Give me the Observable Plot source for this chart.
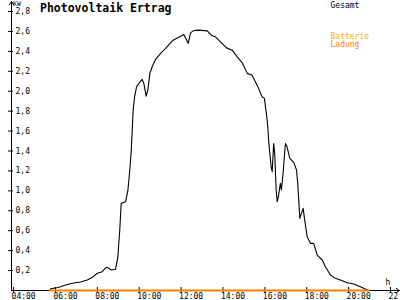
<!DOCTYPE html>
<html>
<head>
<meta charset="utf-8">
<script src="https://cdn.jsdelivr.net/npm/d3@7"></script>
<script src="https://cdn.jsdelivr.net/npm/@observablehq/plot@0.6"></script>
<style>
  html, body { margin: 0; padding: 0; background: #fff; }
  svg { display: block; }
</style>
</head>
<body>
<div id="chart"></div>
<script>
// ---- data (hours of day, kW) ----
const titleText = "Photovoltaik Ertrag";
const unitY = "KW";
const unitX = "h";
const seriesNames = ["Gesamt", "Batterie", "Ladung"];

const gesamtHour = [5.73, 5.77, 6.05, 6.24, 6.48, 6.80, 7.20, 7.52, 7.76, 8.00, 8.23, 8.42, 8.55, 8.66, 8.87, 8.98, 9.07, 9.14, 9.35, 9.46, 9.55, 9.62, 9.71, 9.78, 9.87, 9.98, 10.14, 10.22, 10.33, 10.41, 10.51, 10.62, 10.78, 11.02, 11.26, 11.58, 11.73, 12.13, 12.34, 12.45, 12.58, 12.80, 13.25, 13.48, 13.64, 13.88, 14.17, 14.44, 14.68, 14.92, 15.16, 15.39, 15.63, 15.87, 15.98, 16.11, 16.15, 16.19, 16.30, 16.35, 16.42, 16.47, 16.54, 16.59, 16.66, 16.74, 16.79, 16.87, 16.98, 17.06, 17.19, 17.38, 17.51, 17.57, 17.67, 17.75, 17.83, 17.89, 18.02, 18.18, 18.33, 18.50, 18.74, 18.89, 19.13, 19.37, 19.61, 19.93, 20.24, 20.56, 20.96];
const gesamtKW = [0.00, 0.018, 0.028, 0.038, 0.055, 0.072, 0.085, 0.105, 0.132, 0.173, 0.189, 0.233, 0.223, 0.206, 0.213, 0.339, 0.607, 0.875, 0.891, 1.008, 1.209, 1.409, 1.81, 1.944, 2.044, 2.078, 2.118, 2.078, 1.951, 2.011, 2.179, 2.245, 2.319, 2.379, 2.429, 2.506, 2.523, 2.57, 2.479, 2.586, 2.606, 2.613, 2.606, 2.556, 2.546, 2.495, 2.435, 2.412, 2.345, 2.285, 2.179, 2.161, 2.061, 1.944, 1.928, 1.71, 1.61, 1.476, 1.242, 1.192, 1.476, 1.376, 1.008, 0.891, 0.958, 1.075, 1.008, 1.176, 1.476, 1.442, 1.326, 1.286, 1.209, 1.075, 0.724, 0.774, 0.824, 0.724, 0.54, 0.473, 0.473, 0.356, 0.306, 0.239, 0.155, 0.122, 0.105, 0.078, 0.065, 0.038, 0.00];

const ladungHour = [5.73, 20.96];
const ladungKW = [0, 0];

const xTicks = [4, 6, 8, 10, 12, 14, 16, 18, 20, 22];
const xTickLabels = ["04:00", "06:00", "08:00", "10:00", "12:00", "14:00", "16:00", "18:00", "20:00", "22:00"];
const yTicks = [0.2, 0.4, 0.6, 0.8, 1.0, 1.2, 1.4, 1.6, 1.8, 2.0, 2.2, 2.4, 2.6, 2.8];
const yTickLabels = ["0,2", "0,4", "0,6", "0,8", "1,0", "1,2", "1,4", "1,6", "1,8", "2,0", "2,2", "2,4", "2,6", "2,8"];

const xStart = 3.9, xEnd = 22, xArrow = 22.43;
const yMax = 2.8, yArrow = 2.9;

// ---- tables ----
const gesamt = gesamtHour.map((h, i) => ({h, kw: gesamtKW[i]}));
const ladung = ladungHour.map((h, i) => ({h, kw: ladungKW[i]}));
const xT = xTicks.map((v, i) => ({v, label: xTickLabels[i]}));
const yT = yTicks.map((v, i) => ({v, label: yTickLabels[i]}));

const colGesamt = "#000000";
const colBatterie = "#ffaa00";
const colLadung = "#ff8000";
const mono = "DejaVu Sans Mono";

const chart = Plot.plot({
  width: 400,
  height: 300,
  marginLeft: 11,
  marginRight: 10,
  marginTop: 11,
  marginBottom: 10,
  style: {fontFamily: mono, fontSize: "8px", background: "#fff", color: "#000"},
  x: {domain: [xStart, xEnd], axis: null},
  y: {domain: [0, yMax], axis: null},
  marks: [
    // axes with arrows
    Plot.arrow([{x1: xStart, y1: 0, x2: xArrow, y2: 0}], {x1: "x1", y1: "y1", x2: "x2", y2: "y2", stroke: "#000", strokeWidth: 1, headLength: 6, headAngle: 66}),
    Plot.arrow([{x1: xStart, y1: 0, x2: xStart, y2: yArrow}], {x1: "x1", y1: "y1", x2: "x2", y2: "y2", stroke: "#000", strokeWidth: 1, headLength: 6, headAngle: 66}),
    // ticks
    Plot.ruleX(xT, {x: "v", y1: 0, y2: 0, insetTop: -3, insetBottom: -3, stroke: "#000"}),
    Plot.ruleY(yT, {y: "v", x1: xStart, x2: xStart, insetLeft: -3, insetRight: -2, stroke: "#000"}),
    // tick labels
    Plot.text(xT, {x: "v", y: 0, text: "label", textAnchor: "start", lineAnchor: "top", dx: -2, dy: 3, fontSize: 8, fill: "#000"}),
    Plot.text(yT, {y: "v", frameAnchor: "left", text: "label", textAnchor: "start", lineAnchor: "middle", dx: 4, fontSize: 8, fill: "#000"}),
    // data
    Plot.line(gesamt, {x: "h", y: "kw", stroke: colGesamt, strokeWidth: 1.1, curve: "linear"}),
    Plot.line(ladung, {x: "h", y: "kw", stroke: colLadung, strokeWidth: 2}),
    // title, units, legend
    Plot.text([titleText], {frameAnchor: "top-left", text: d => d, textAnchor: "start", lineAnchor: "bottom", dx: 28.5, dy: 0.5, fontSize: 11.5, fontWeight: "bold", fill: "#000"}),
    Plot.text([unitY], {frameAnchor: "top-left", text: d => d, textAnchor: "start", lineAnchor: "bottom", dx: 1.5, dy: -5.5, fontSize: 6.5, fill: "#000"}),
    Plot.text([unitX], {frameAnchor: "bottom-right", text: d => d, textAnchor: "start", lineAnchor: "bottom", dx: -5, dy: -5.5, fontSize: 8, fill: "#000"}),
    Plot.text([seriesNames[0]], {frameAnchor: "top-right", text: d => d, textAnchor: "start", lineAnchor: "bottom", dx: -60, dy: -3.5, fontSize: 8, fill: colGesamt}),
    Plot.text([seriesNames[1]], {frameAnchor: "top-right", text: d => d, textAnchor: "start", lineAnchor: "bottom", dx: -60, dy: 27.7, fontSize: 8, fill: colBatterie}),
    Plot.text([seriesNames[2]], {frameAnchor: "top-right", text: d => d, textAnchor: "start", lineAnchor: "bottom", dx: -60, dy: 35.5, fontSize: 8, fill: colLadung})
  ]
});
document.getElementById("chart").appendChild(chart);
</script>
</body>
</html>
